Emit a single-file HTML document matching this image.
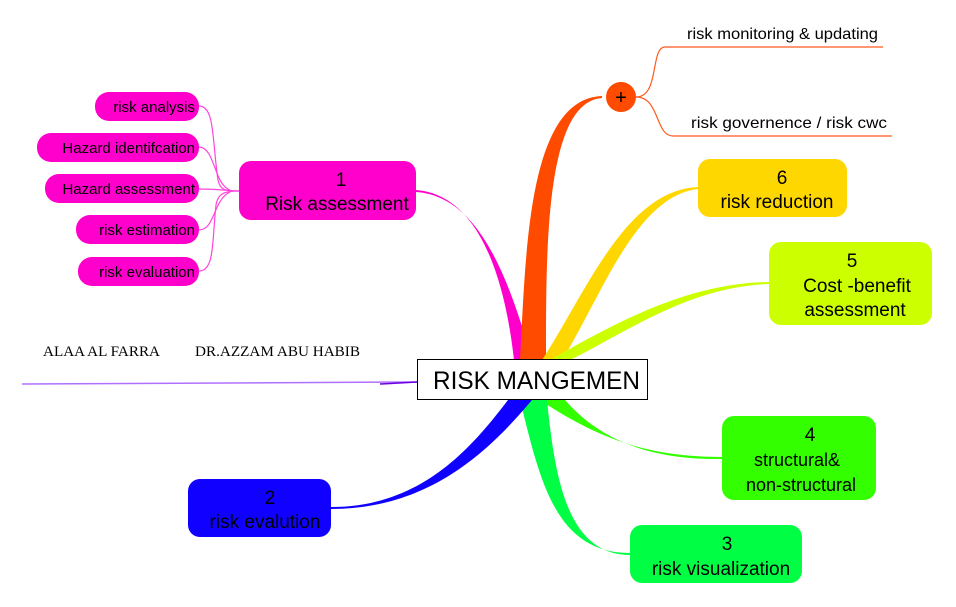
<!DOCTYPE html>
<html><head><meta charset="utf-8"><style>
html,body{margin:0;padding:0;background:#fff;}
svg{display:block;font-family:"Liberation Sans",sans-serif;}
</style></head><body>
<svg width="956" height="607" viewBox="0 0 956 607" xmlns="http://www.w3.org/2000/svg">
<!-- branches -->
<path d="M514,360 C505,280 480,195 416,190 L416,192 C478,196 508,275 532,360 Z" fill="#ff00cc"/>
<path d="M520,360 C526,250 528,99 602,96 L602,98 C545,102 546,250 546,360 Z" fill="#ff4b00"/>
<path d="M542,360 C585,295 625,190 698,187 L698,189 C635,196 600,300 562,360 Z" fill="#ffd700"/>
<path d="M550,360 C620,320 690,283 769,282 L769,284 C690,287 630,330 570,360 Z" fill="#ccff00"/>
<path d="M540,400 C600,440 650,457 722,457 L722,459 C650,460 600,440 565,400 Z" fill="#33ff00"/>
<path d="M520,400 C540,480 555,553 630,553 L630,555 C568,555 555,480 547,400 Z" fill="#00ff44"/>
<path d="M508,400 C470,450 420,507 331,507 L331,509 C430,509 490,450 532,400 Z" fill="#1000ff"/>
<!-- purple line -->
<path d="M22,384 L417,382" stroke="#b070ff" stroke-width="1.5" fill="none"/>
<path d="M380,384 L417,382" stroke="#6a00e0" stroke-width="1.5" fill="none"/>
<!-- sub lines -->
<g stroke="#ff44dd" stroke-width="1.2" fill="none">
<path d="M199,106 C215,106 212,140 218,180 C220,190 225,191 239,191"/>
<path d="M199,147 C215,147 214,185 230,190"/>
<path d="M199,189 C215,189 220,190 239,191"/>
<path d="M199,230 C215,230 213,200 230,192"/>
<path d="M199,271 C215,271 212,240 216,205 C218,193 225,191 239,191"/>
</g>
<!-- orange lines -->
<g stroke="#ff5a1e" stroke-width="1.2" fill="none">
<path d="M636,97 C660,97 650,47 665,47 L883,47"/>
<path d="M636,97 C660,97 655,136 673,136 L892,136"/>
</g>
<circle cx="621" cy="97" r="15" fill="#ff4b00"/>
<text x="621" y="104" text-anchor="middle" font-size="20">+</text>
<text x="687" y="39" font-size="16" textLength="191" lengthAdjust="spacingAndGlyphs">risk monitoring &amp; updating</text>
<text x="691" y="128" font-size="16" textLength="196" lengthAdjust="spacingAndGlyphs">risk governence / risk cwc</text>
<!-- center -->
<rect x="417.5" y="359.5" width="230" height="40" fill="#fff" stroke="#000"/>
<text x="433" y="389" font-size="25" textLength="207" lengthAdjust="spacingAndGlyphs">RISK MANGEMEN</text>
<!-- risk assessment -->
<rect x="239" y="161" width="177" height="59" rx="12" fill="#ff00cc"/>
<text x="341" y="186" text-anchor="middle" font-size="19">1</text>
<text x="337" y="210" text-anchor="middle" font-size="19">Risk assessment</text>
<g fill="#ff00cc">
<rect x="95" y="92" width="104" height="29" rx="14"/>
<rect x="37" y="133" width="162" height="29" rx="14"/>
<rect x="45" y="174" width="154" height="29" rx="14"/>
<rect x="76" y="215" width="123" height="29" rx="14"/>
<rect x="78" y="257" width="121" height="29" rx="14"/>
</g>
<g font-size="15" text-anchor="end">
<text x="195" y="112">risk analysis</text>
<text x="195" y="153">Hazard identifcation</text>
<text x="195" y="194">Hazard assessment</text>
<text x="195" y="235">risk estimation</text>
<text x="195" y="277">risk evaluation</text>
</g>
<!-- 6 -->
<rect x="698" y="159" width="149" height="58" rx="12" fill="#ffd700"/>
<text x="782" y="184" text-anchor="middle" font-size="19">6</text>
<text x="777" y="208" text-anchor="middle" font-size="19">risk reduction</text>
<!-- 5 -->
<rect x="769" y="242" width="163" height="83" rx="12" fill="#ccff00"/>
<text x="852" y="267" text-anchor="middle" font-size="19">5</text>
<text x="857" y="292" text-anchor="middle" font-size="19">Cost -benefit</text>
<text x="855" y="316" text-anchor="middle" font-size="19">assessment</text>
<!-- 4 -->
<rect x="722" y="416" width="154" height="84" rx="12" fill="#33ff00"/>
<text x="810" y="441" text-anchor="middle" font-size="19">4</text>
<text x="797" y="466" text-anchor="middle" font-size="18">structural&amp;</text>
<text x="801" y="491" text-anchor="middle" font-size="18">non-structural</text>
<!-- 3 -->
<rect x="630" y="525" width="172" height="58" rx="12" fill="#00ff44"/>
<text x="727" y="550" text-anchor="middle" font-size="19">3</text>
<text x="721" y="575" text-anchor="middle" font-size="19">risk visualization</text>
<!-- 2 -->
<rect x="188" y="479" width="143" height="58" rx="12" fill="#1000ff"/>
<text x="270" y="504" text-anchor="middle" font-size="19">2</text>
<text x="265" y="528" text-anchor="middle" font-size="19">risk evalution</text>
<!-- names -->
<g font-family="'Liberation Serif',serif" font-size="15">
<text x="43" y="356" textLength="117" lengthAdjust="spacingAndGlyphs">ALAA AL FARRA</text>
<text x="195" y="356" textLength="165" lengthAdjust="spacingAndGlyphs">DR.AZZAM ABU HABIB</text>
</g>
</svg>
</body></html>
